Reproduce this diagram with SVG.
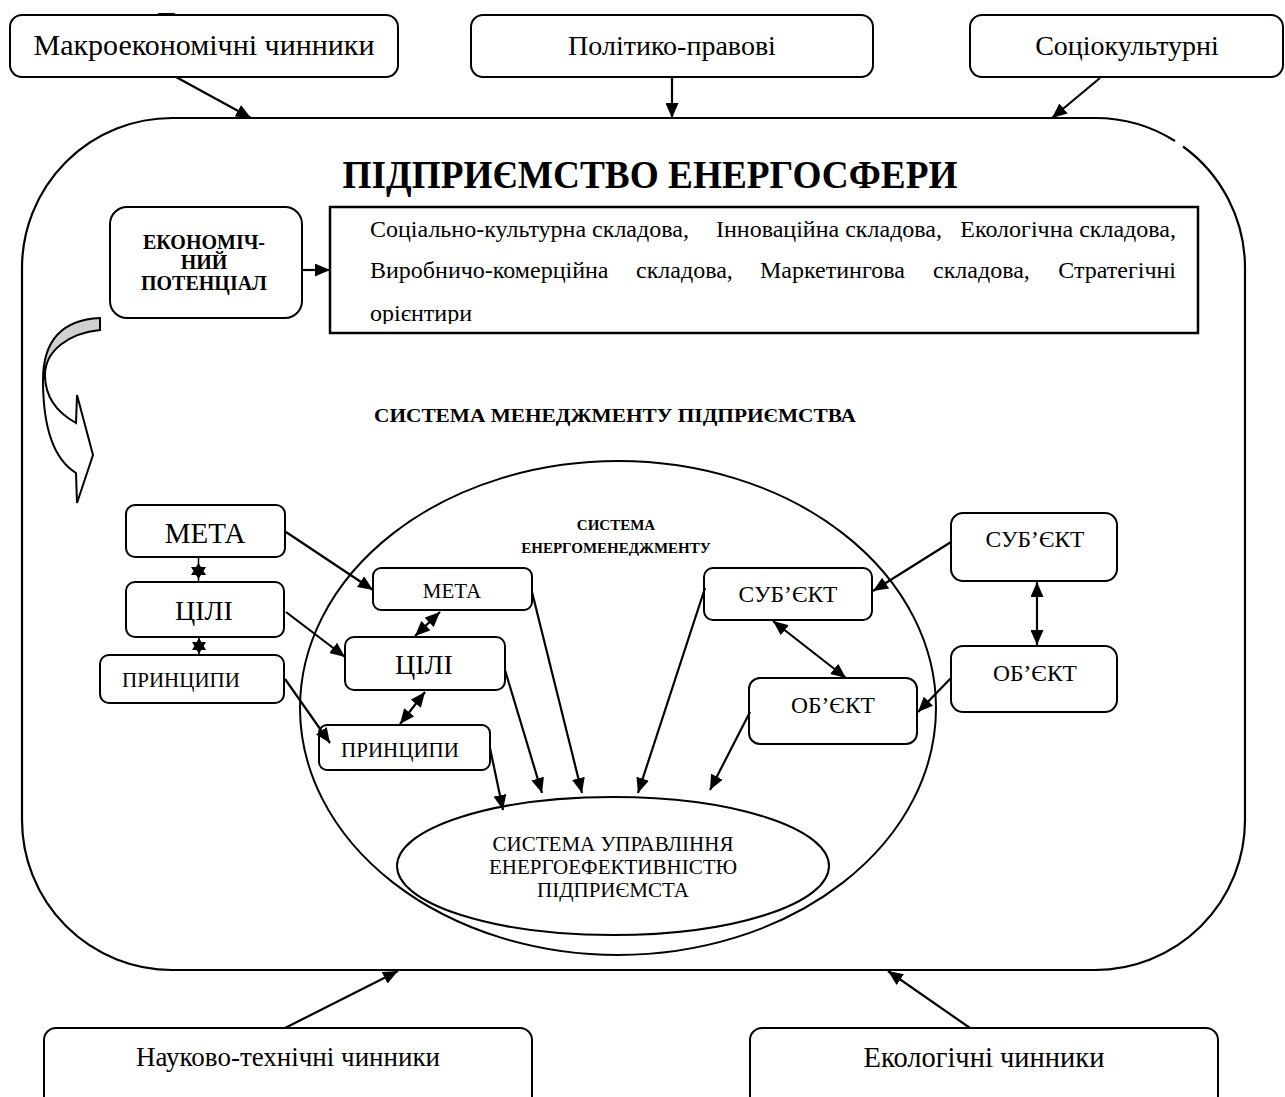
<svg xmlns="http://www.w3.org/2000/svg" width="1285" height="1097" viewBox="0 0 1285 1097">
  <style>
    .t { font-family: "Liberation Serif", "Times New Roman", serif; fill: #000; }
    .b { font-weight: bold; }
    .box { fill: #fff; stroke: #000; stroke-width: 2; }
    .ln { fill: none; stroke: #000; stroke-width: 2.2; }
    .arr { marker-end: url(#head); }
    .bi { marker-start: url(#head); marker-end: url(#head); }
  </style>
  <defs>
    <marker id="head" markerUnits="userSpaceOnUse" markerWidth="15" markerHeight="13" refX="15" refY="6.5" orient="auto-start-reverse">
      <path d="M0,0 L15,6.5 L0,13 Z" fill="#000"/>
    </marker>
    <clipPath id="clipText">
      <rect x="330" y="207" width="868" height="117"/>
    </clipPath>
  </defs>
  <rect width="1285" height="1097" fill="#fff"/>

  <!-- partly hidden letter behind the first factor box -->
  <text class="t" x="157" y="30" font-size="26">П</text>

  <!-- enterprise frame (small break in the upper right corner) -->
  <g id="enterprise">
    <path class="ln" stroke-width="2" d="M172,118 H1095 A150,150 0 0 1 1175,141 M1183,146.5 A150,150 0 0 1 1245,268 V820 A150,150 0 0 1 1095,970 H172 A150,150 0 0 1 22,820 V268 A150,150 0 0 1 172,118"/>
    <text class="t b" x="650" y="188" font-size="40" text-anchor="middle" textLength="615" lengthAdjust="spacingAndGlyphs">ПІДПРИЄМСТВО ЕНЕРГОСФЕРИ</text>
    <text class="t b" x="615" y="422" font-size="19" text-anchor="middle" textLength="482" lengthAdjust="spacingAndGlyphs">СИСТЕМА МЕНЕДЖМЕНТУ ПІДПРИЄМСТВА</text>
  </g>

  <!-- curved arrow at the left side -->
  <g id="curved-arrow" stroke="#000" stroke-width="2" stroke-linejoin="miter">
    <path d="M100,318 C58,320 43,345 43,380 L45,375 C45,350 70,333 100,330 Z" fill="#d0d0d0"/>
    <path d="M43,380 C43,432 55,460 76,473 L77,503 L93,455 L77,395 L76,423 C58,413 45,398 45,375 Z" fill="#fff"/>
  </g>

  <!-- external factors -->
  <g id="factor-macro">
    <rect class="box" x="10" y="15" width="388" height="62" rx="12"/>
    <text class="t" x="204" y="55" font-size="30" text-anchor="middle">Макроекономічні чинники</text>
  </g>
  <g id="factor-political">
    <rect class="box" x="471" y="15" width="402" height="62" rx="12"/>
    <text class="t" x="672" y="55" font-size="28" text-anchor="middle">Політико-правові</text>
  </g>
  <g id="factor-social">
    <rect class="box" x="970" y="15" width="313" height="62" rx="12"/>
    <text class="t" x="1127" y="55" font-size="28" text-anchor="middle">Соціокультурні</text>
  </g>
  <g id="factor-scitech">
    <rect class="box" x="44" y="1028" width="488" height="90" rx="12"/>
    <text class="t" x="288" y="1066" font-size="27" text-anchor="middle">Науково-технічні чинники</text>
  </g>
  <g id="factor-eco">
    <rect class="box" x="750" y="1028" width="468" height="90" rx="12"/>
    <text class="t" x="984" y="1067" font-size="28.5" text-anchor="middle">Екологічні чинники</text>
  </g>

  <!-- economic potential -->
  <g id="economic-potential">
    <rect class="box" x="110" y="207" width="192" height="111" rx="17"/>
    <text class="t b" x="204" y="249" font-size="20" text-anchor="middle">ЕКОНОМІЧ-</text>
    <text class="t b" x="204" y="269" font-size="20" text-anchor="middle">НИЙ</text>
    <text class="t b" x="204" y="290" font-size="20" text-anchor="middle">ПОТЕНЦІАЛ</text>
  </g>
  <g id="components">
    <rect x="330" y="207" width="868" height="126" fill="#fff" stroke="#000" stroke-width="2.5"/>
    <g class="t" font-size="24" clip-path="url(#clipText)">
      <text x="370" y="237">Соціально-культурна складова,</text>
      <text x="716" y="237">Інноваційна складова,</text>
      <text x="1176" y="237" text-anchor="end">Екологічна складова,</text>
      <text x="370" y="278">Виробничо-комерційна</text>
      <text x="636" y="278">складова,</text>
      <text x="760" y="278">Маркетингова</text>
      <text x="933" y="278">складова,</text>
      <text x="1176" y="278" text-anchor="end">Стратегічні</text>
      <text x="370" y="321">орієнтири</text>
    </g>
  </g>

  <!-- energy management system -->
  <g id="energy-management">
    <ellipse cx="618" cy="708" rx="318" ry="247" fill="none" stroke="#000" stroke-width="2"/>
    <text class="t b" x="616" y="530" font-size="15" text-anchor="middle">СИСТЕМА</text>
    <text class="t b" x="616" y="553" font-size="15" text-anchor="middle">ЕНЕРГОМЕНЕДЖМЕНТУ</text>
  </g>
  <g id="efficiency-system">
    <ellipse cx="613" cy="866" rx="216" ry="69" fill="#fff" stroke="#000" stroke-width="2"/>
    <text class="t" x="613" y="851" font-size="21" text-anchor="middle">СИСТЕМА УПРАВЛІННЯ</text>
    <text class="t" x="613" y="874" font-size="21" text-anchor="middle">ЕНЕРГОЕФЕКТИВНІСТЮ</text>
    <text class="t" x="613" y="897" font-size="21" text-anchor="middle">ПІДПРИЄМСТА</text>
  </g>

  <!-- management system, outer column -->
  <g id="goal-outer">
    <rect class="box" x="126" y="505" width="159" height="52" rx="9"/>
    <text class="t" x="205" y="543" font-size="29" text-anchor="middle">МЕТА</text>
  </g>
  <g id="aims-outer">
    <rect class="box" x="126" y="582" width="158" height="55" rx="9"/>
    <text class="t" x="204" y="620" font-size="28" text-anchor="middle">ЦІЛІ</text>
  </g>
  <g id="principles-outer">
    <rect class="box" x="100" y="655" width="184" height="48" rx="9"/>
    <text class="t" x="181" y="687" font-size="21" text-anchor="middle">ПРИНЦИПИ</text>
  </g>

  <!-- energy management, inner column -->
  <g id="goal-inner">
    <rect class="box" x="373" y="568" width="159" height="42" rx="8"/>
    <text class="t" x="452" y="598" font-size="21" text-anchor="middle">МЕТА</text>
  </g>
  <g id="aims-inner">
    <rect class="box" x="345" y="637" width="160" height="53" rx="9"/>
    <text class="t" x="424" y="674" font-size="28" text-anchor="middle">ЦІЛІ</text>
  </g>
  <g id="principles-inner">
    <rect class="box" x="319" y="725" width="171" height="45" rx="8"/>
    <text class="t" x="400" y="757" font-size="21" text-anchor="middle">ПРИНЦИПИ</text>
  </g>

  <!-- subject / object -->
  <g id="subject-outer">
    <rect class="box" x="951" y="513" width="166" height="68" rx="12"/>
    <text class="t" x="1035" y="547" font-size="23.5" text-anchor="middle">СУБ’ЄКТ</text>
  </g>
  <g id="object-outer">
    <rect class="box" x="951" y="646" width="166" height="66" rx="12"/>
    <text class="t" x="1035" y="681" font-size="23.5" text-anchor="middle">ОБ’ЄКТ</text>
  </g>
  <g id="subject-inner">
    <rect class="box" x="704" y="568" width="168" height="52" rx="9"/>
    <text class="t" x="788" y="602" font-size="23.5" text-anchor="middle">СУБ’ЄКТ</text>
  </g>
  <g id="object-inner">
    <rect class="box" x="749" y="678" width="168" height="66" rx="11"/>
    <text class="t" x="833" y="713" font-size="23.5" text-anchor="middle">ОБ’ЄКТ</text>
  </g>

  <!-- connectors -->
  <g id="connectors" class="ln">
    <line class="arr" x1="176" y1="77" x2="251" y2="118"/>
    <line class="arr" x1="672" y1="77" x2="672" y2="118"/>
    <line class="arr" x1="1100" y1="78" x2="1052" y2="118"/>
    <line class="arr" x1="285" y1="1028" x2="398" y2="971"/>
    <line class="arr" x1="970" y1="1028" x2="888" y2="971"/>
    <line class="arr" x1="302" y1="270" x2="330" y2="270"/>

    <line class="arr" x1="286" y1="532" x2="373" y2="590"/>
    <line class="arr" x1="286" y1="612" x2="345" y2="657"/>
    <line class="arr" x1="285" y1="679" x2="330" y2="743"/>
    <line class="bi" x1="440" y1="612" x2="415" y2="636"/>
    <line class="bi" x1="425" y1="692" x2="400" y2="724"/>

    <line class="arr" x1="532" y1="592" x2="582" y2="793"/>
    <line class="arr" x1="505" y1="670" x2="542" y2="793"/>
    <line class="arr" x1="490" y1="748" x2="503" y2="810"/>
    <line class="arr" x1="705" y1="588" x2="638" y2="793"/>
    <line class="arr" x1="750" y1="712" x2="710" y2="790"/>

    <line class="arr" x1="951" y1="542" x2="873" y2="591"/>
    <line class="bi" x1="1037" y1="582" x2="1037" y2="645"/>
    <line class="bi" x1="773" y1="621" x2="846" y2="678"/>
    <line class="arr" x1="951" y1="678" x2="918" y2="712"/>

    <!-- short two-way links between the outer column boxes -->
    <line x1="198.5" y1="558" x2="198.5" y2="582" stroke-width="1.5"/>
    <path d="M198.5,563 L191,575 L206,575 Z M198.5,579 L206,567 L191,567 Z" fill="#000" stroke="none" fill-rule="nonzero"/>
    <line x1="199" y1="637" x2="199" y2="655" stroke-width="1.5"/>
    <path d="M199,638 L192,650 L206,650 Z M199,654 L206,642 L192,642 Z" fill="#000" stroke="none" fill-rule="nonzero"/>
  </g>
</svg>
